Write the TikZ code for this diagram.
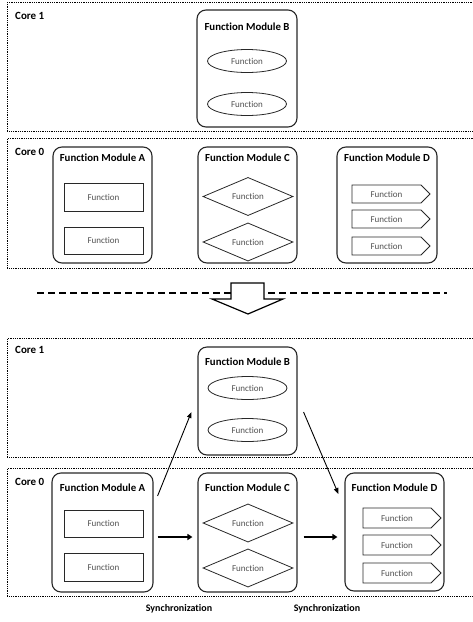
\documentclass[tikz,border=0pt]{standalone}
\usepackage{fontspec}
\setmainfont{Carlito}[Ligatures=NoCommon]
\usetikzlibrary{shapes.geometric,shapes.symbols,arrows.meta}
\definecolor{fgray}{RGB}{80,80,80}
\definecolor{bgray}{RGB}{40,40,40}
\begin{document}
\begin{tikzpicture}[x=1pt,y=-1pt,
  core/.style={draw=black, line width=0.8pt, dash pattern=on 0.9pt off 0.9pt, inner sep=0, anchor=north west},
  corelabel/.style={font=\bfseries\fontsize{11}{12}\selectfont, anchor=west, inner sep=0},
  module/.style={draw=bgray, line width=1.1pt, rounded corners=9pt, inner sep=0},
  title/.style={font=\bfseries\fontsize{10.8}{12}\selectfont, inner sep=0},
  fn/.style={font=\fontsize{9}{10}\selectfont, text=fgray, draw=bgray, line width=0.8pt, inner sep=0},
  fnrect/.style={fn, rectangle, minimum width=79pt},
  fnell/.style={fn, ellipse, minimum width=79pt, minimum height=23pt},
  fndia/.style={fn, diamond, minimum width=90pt, minimum height=29pt},
  fnsig/.style={fn, signal, signal to=east, minimum width=78pt},
  arr/.style={draw=black, line width=0.9pt, -{Triangle[length=6pt,width=4.5pt]}},
  arrthick/.style={draw=black, line width=2pt, -{Triangle[length=5pt,width=6pt]}},
  sync/.style={font=\bfseries\fontsize{10}{12}\selectfont, inner sep=0},
]
\useasboundingbox (0,0) rectangle (473,622);
\clip (0,0) rectangle (473,622);

% ===== top: before =====
\node[core, minimum width=473pt, minimum height=129pt] (c1a) at (7,2) {};
\node[corelabel] (c1alab) at (15,16) {Core 1};
\node[module, minimum width=100pt, minimum height=117pt] (mBa) at (247,68.5) {};
\node[title] (tBa) at (247,27) {Function Module B};
\node[fnell] (eBa1) at (247,61) {Function};
\node[fnell] (eBa2) at (247,104) {Function};

\node[core, minimum width=473pt, minimum height=130pt] (c0a) at (7,138) {};
\node[corelabel] (c0alab) at (15,152) {Core 0};
\node[module, minimum width=99pt, minimum height=116pt] (mAa) at (102.5,205) {};
\node[title] (tAa) at (102.5,158) {Function Module A};
\node[fnrect, minimum height=28pt] (rAa1) at (103.5,197) {Function};
\node[fnrect, minimum height=27pt] (rAa2) at (103.5,240.5) {Function};

\node[module, minimum width=99pt, minimum height=116pt] (mCa) at (247.5,205) {};
\node[title] (tCa) at (247.5,158) {Function Module C};
\node[fndia] (dCa1) at (248,196.5) {Function};
\node[fndia] (dCa2) at (248,242) {Function};

\node[module, minimum width=100pt, minimum height=116pt] (mDa) at (387,205) {};
\node[title] (tDa) at (387,158) {Function Module D};
\node[fnsig, minimum height=18pt] (sDa1) at (386.5,194) {Function};
\node[fnsig, minimum height=18pt] (sDa2) at (386.5,219) {Function};
\node[fnsig, minimum height=18pt] (sDa3) at (386.5,246) {Function};

% ===== separator =====
\draw[line width=1.2pt, dash pattern=on 7pt off 4pt] (37,293) -- (447,293);
\draw[line width=1.2pt, fill=white, line join=miter]
  (231,283) -- (264,283) -- (264,299) -- (283,299) -- (248,314) -- (212,299) -- (231,299) -- cycle;

% ===== bottom: after =====
\node[core, minimum width=473pt, minimum height=119pt] (c1b) at (7,338) {};
\node[corelabel] (c1blab) at (15,350) {Core 1};
\node[module, minimum width=99pt, minimum height=108pt] (mBb) at (247.5,401) {};
\node[title] (tBb) at (247.5,362) {Function Module B};
\node[fnell] (eBb1) at (247.5,388) {Function};
\node[fnell] (eBb2) at (247.5,430) {Function};

\node[core, minimum width=473pt, minimum height=128pt] (c0b) at (7,468) {};
\node[corelabel] (c0blab) at (15,482) {Core 0};
\node[module, minimum width=101pt, minimum height=119pt] (mAb) at (102.5,532.5) {};
\node[title] (tAb) at (102.5,488) {Function Module A};
\node[fnrect, minimum height=27pt] (rAb1) at (103.5,523.5) {Function};
\node[fnrect, minimum height=28pt] (rAb2) at (103.5,567) {Function};

\node[module, minimum width=99pt, minimum height=119pt] (mCb) at (247.5,532.5) {};
\node[title] (tCb) at (247.5,488) {Function Module C};
\node[fndia] (dCb1) at (248,523) {Function};
\node[fndia] (dCb2) at (248,568) {Function};

\node[module, minimum width=99pt, minimum height=118pt] (mDb) at (394.5,532) {};
\node[title] (tDb) at (394.5,488) {Function Module D};
\node[fnsig, minimum height=20pt] (sDb1) at (397,518) {Function};
\node[fnsig, minimum height=20pt] (sDb2) at (397,545) {Function};
\node[fnsig, minimum height=20pt] (sDb3) at (397,573) {Function};

% connectors
\draw[arr] ([shift={(4pt,36.5pt)}]mAb.east) -- ([shift={(-6pt,-11pt)}]mBb.west);
\draw[arr] ([shift={(6pt,-11pt)}]mBb.east) -- ([shift={(-6pt,38pt)}]mDb.west);
\draw[arrthick] ([shift={(4pt,-4.5pt)}]mAb.east) -- ([shift={(-5pt,-4.5pt)}]mCb.west);
\draw[arrthick] ([shift={(6pt,-4.5pt)}]mCb.east) -- ([shift={(-7pt,-5pt)}]mDb.west);

\node[sync] (sy1) at (179,609) {Synchronization};
\node[sync] (sy2) at (327,609) {Synchronization};
\end{tikzpicture}
\end{document}
